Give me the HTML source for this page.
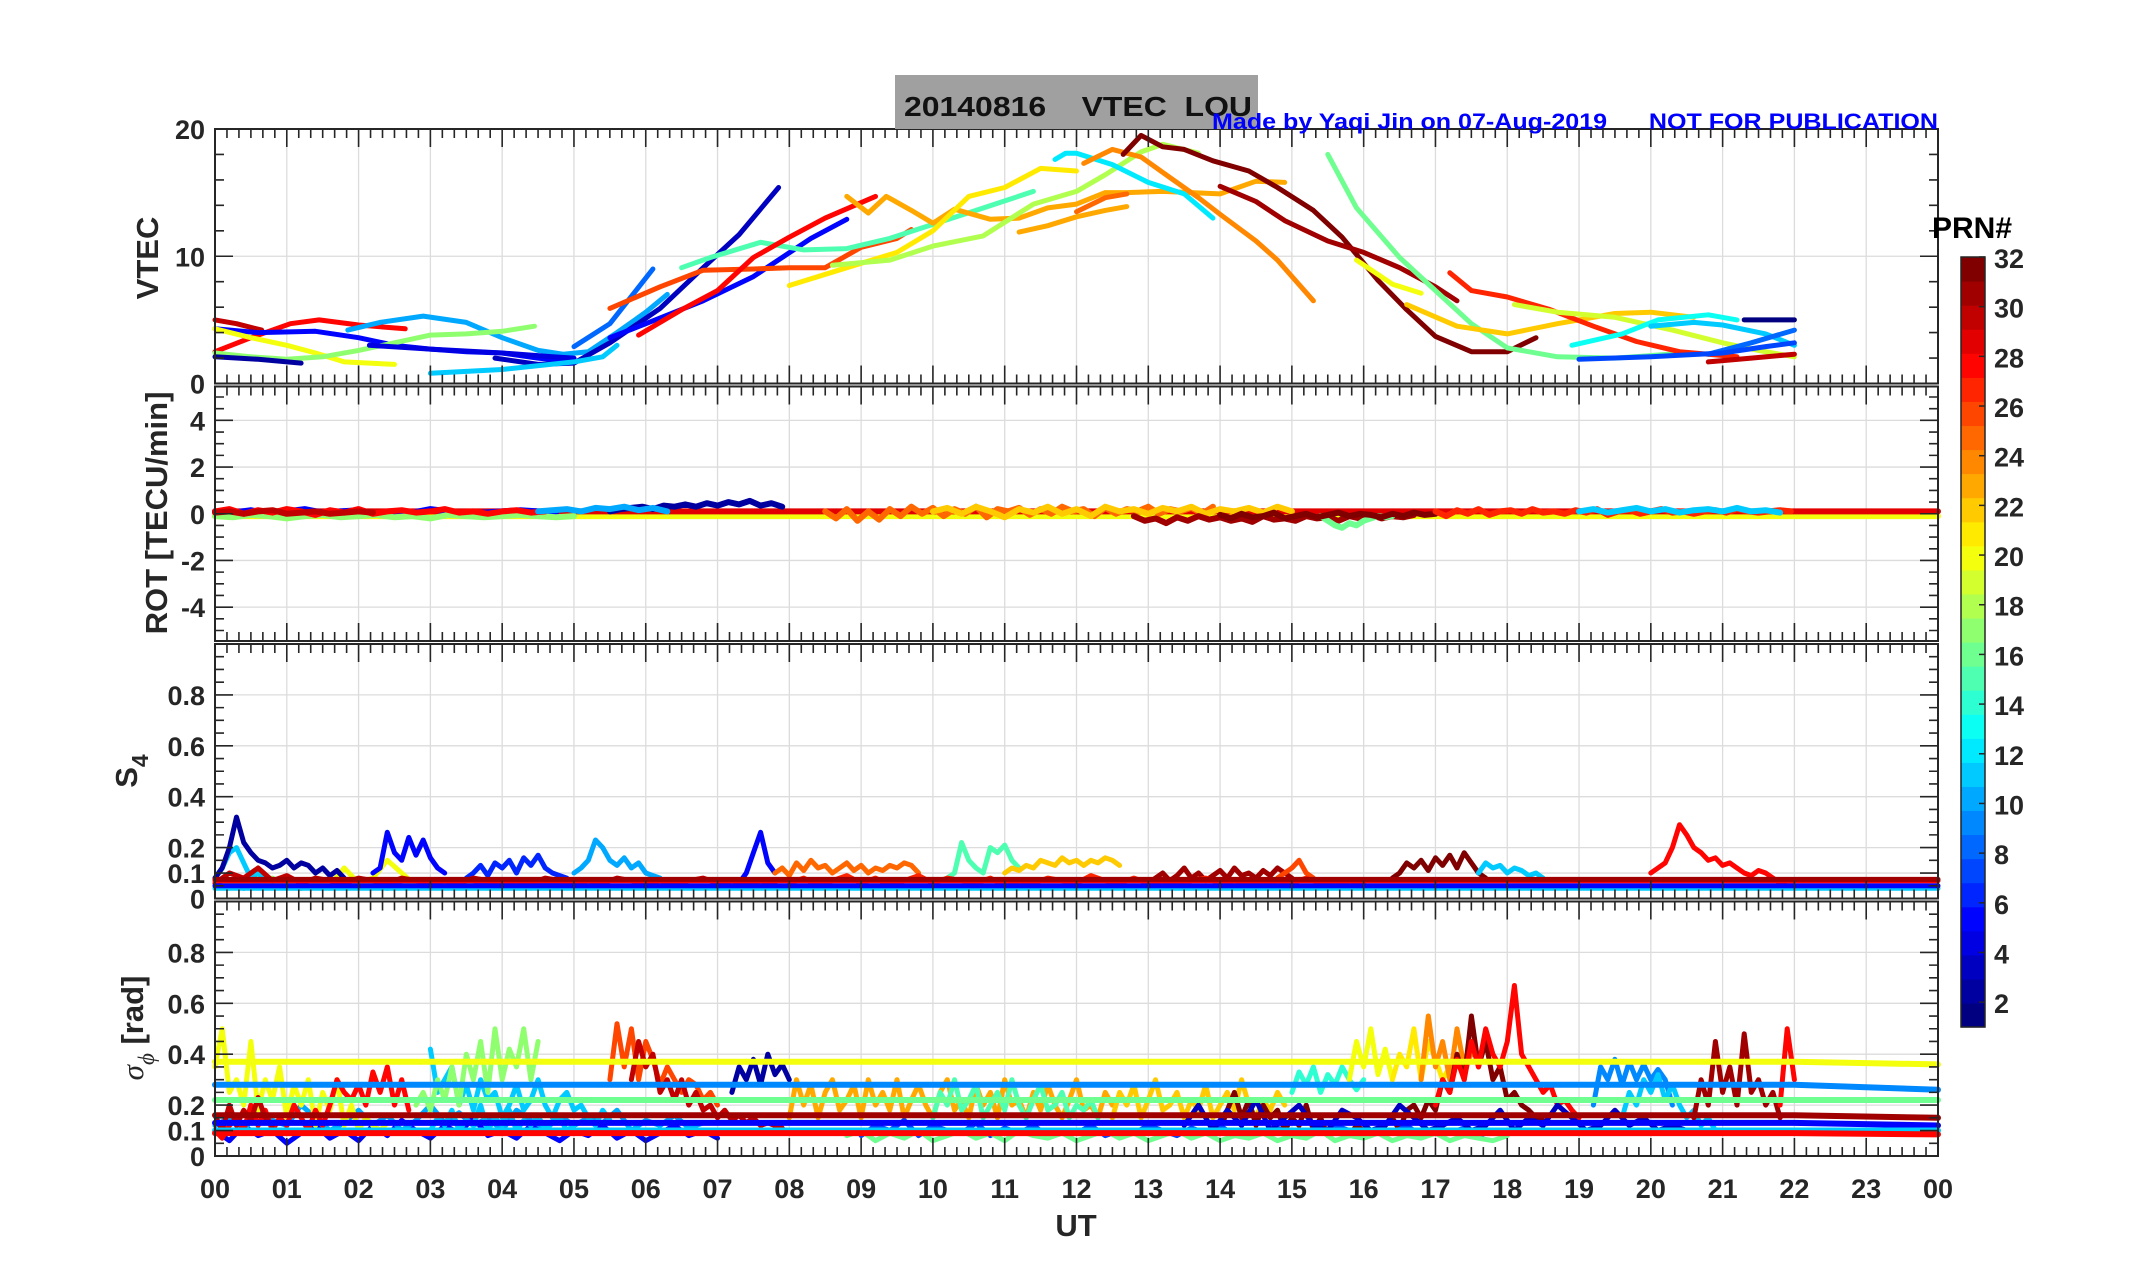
<!DOCTYPE html>
<html><head><meta charset="utf-8"><style>
html,body{margin:0;padding:0;background:#fff}
svg{display:block;font-family:"Liberation Sans",sans-serif}
.tk{font-weight:bold;font-size:27px;fill:#262626}
</style></head><body>
<svg id="fig" width="2153" height="1286" viewBox="0 0 2153 1286" xmlns="http://www.w3.org/2000/svg">
<rect x="0" y="0" width="2153" height="1286" fill="#fff"/>
<g id="grid"></g>
<g id="series"></g>
<g id="axes"></g>
<rect x="895" y="75" width="363" height="54" fill="#a0a0a0"/>
<text x="904" y="116" font-size="28" font-weight="bold" fill="#111" xml:space="preserve" textLength="348" lengthAdjust="spacingAndGlyphs">20140816    VTEC  LOU</text>
<text x="1212" y="129" font-size="22" font-weight="bold" fill="#0000ff" xml:space="preserve" textLength="726" lengthAdjust="spacingAndGlyphs">Made by Yaqi Jin on 07-Aug-2019      NOT FOR PUBLICATION</text>
<text transform="translate(158,258) rotate(-90)" text-anchor="middle" font-size="31" font-weight="bold" fill="#262626">VTEC</text>
<text transform="translate(167,513) rotate(-90)" text-anchor="middle" font-size="31" font-weight="bold" fill="#262626">ROT [TECU/min]</text>
<text transform="translate(137,771) rotate(-90)" text-anchor="middle" font-size="31" font-weight="bold" fill="#262626">S<tspan font-size="23" dy="11">4</tspan></text>
<text transform="translate(143,1028) rotate(-90)" text-anchor="middle" font-size="31" font-weight="bold" fill="#262626"><tspan font-family="Liberation Serif" font-style="italic" font-weight="normal">σ</tspan><tspan font-family="Liberation Serif" font-style="italic" font-weight="normal" font-size="23" dy="11">ϕ</tspan><tspan dy="-11"> [rad]</tspan></text>
<text x="1076" y="1236" text-anchor="middle" font-size="31" font-weight="bold" fill="#262626">UT</text>
<text x="1972" y="238" text-anchor="middle" font-size="30" font-weight="bold" fill="#000">PRN#</text>
<g id="cbar"></g>
</svg>
<script>
// ---------- data ----------
const xTickLabels = ["00","01","02","03","04","05","06","07","08","09","10","11","12","13","14","15","16","17","18","19","20","21","22","23","00"];
const vtecTicks = [0,10,20];
const rotTicks = [-4,-2,0,2,4];
const s4Ticks = [0,0.1,0.2,0.4,0.6,0.8];
const sigTicks = [0,0.1,0.2,0.4,0.6,0.8];
const cbarTicks = [2,4,6,8,10,12,14,16,18,20,22,24,26,28,30,32];

// VTEC arcs: prn, times, values
const vtecPrn = [30,28,10,5,20,17,2,4,3,8,5,11,26,15,28,23,21,18,12,24,32,23,25,31,20,16,22,27,19,13,11,1,8,7,30];
const vtecT = [
 [0,0.3,0.65],
 [0,0.5,1.05,1.45,2,2.65],
 [1.85,2.3,2.9,3.5,4.0,4.5,4.85,5.2,5.6,6.0,6.3],
 [0,0.6,1.4,2.0,2.5,3.0,3.5,4.0,4.5,5.0],
 [0,0.5,1.0,1.4,1.8,2.5],
 [0,0.5,1.0,1.5,2.0,2.5,3.0,3.5,4.0,4.45],
 [0,0.6,1.2],
 [2.15,3.0,4.0,4.7,5.0],
 [3.9,4.5,5.0,5.5,6.2,6.8,7.3,7.85],
 [5.0,5.5,6.1],
 [5.5,6.0,6.8,7.5,8.3,8.8],
 [3.0,4.0,5.0,5.4,5.6],
 [5.5,6.2,6.8,7.5,8.0,8.5,9.0,9.5,9.7],
 [6.5,6.9,7.6,8.2,8.8,9.4,10.0,10.6,11.4],
 [5.9,6.5,7.0,7.5,8.0,8.5,9.2],
 [8.8,9.1,9.35,9.7,10.0,10.3,10.8,11.2,11.6,12.0,12.4,12.7,13.2,14.0,14.5,14.9],
 [8.0,8.8,9.5,10.0,10.5,11.0,11.5,12.0],
 [8.6,9.4,10.0,10.7,11.4,12.0,12.4,12.9,13.2,13.7],
 [11.7,11.85,12.0,12.5,13.0,13.5,13.9],
 [12.1,12.5,12.9,13.3,13.7,14.0,14.5,14.8,15.3],
 [12.65,12.9,13.2,13.5,13.9,14.4,14.8,15.3,15.7,16.2,16.6,17.0,17.5,18.0,18.4],
 [11.2,11.6,12.0,12.4,12.7],
 [12.0,12.4,12.7],
 [14.0,14.5,14.9,15.5,16.0,16.5,17.0,17.3],
 [15.9,16.4,16.8],
 [15.5,15.9,16.5,17.0,17.5,18.0,18.7,19.5,20.5],
 [16.6,17.3,18.0,18.7,19.5,20.0,20.6],
 [17.2,17.5,18.0,18.6,19.2,19.8,20.4,21.2],
 [18.1,18.7,19.5,20.3,21.0,21.5,22.0],
 [18.9,19.6,20.1,20.8,21.2],
 [20.0,20.6,21.0,21.6,22.0],
 [21.3,22.0],
 [20.8,21.4,22.0],
 [19.0,20.0,21.0,21.6,22.0],
 [20.8,21.4,22.0]
];
const vtecV = [
 [5.0,4.7,4.2],
 [2.5,3.6,4.7,5.0,4.6,4.3],
 [4.2,4.8,5.3,4.8,3.6,2.6,2.3,2.5,4.0,5.6,7.0],
 [4.3,4.0,4.1,3.6,3.0,2.7,2.5,2.4,2.0,1.7],
 [4.3,3.6,3.0,2.4,1.7,1.5],
 [2.4,2.1,1.9,2.1,2.6,3.2,3.8,3.9,4.1,4.5],
 [2.1,1.9,1.6],
 [3.0,2.7,2.4,2.1,2.0],
 [2.0,1.5,1.6,3.2,5.9,9.1,11.7,15.4],
 [2.9,4.7,9.0],
 [3.6,4.7,6.5,8.4,11.4,12.9],
 [0.8,1.1,1.7,2.1,3.0],
 [5.9,7.6,8.9,9.0,9.1,9.1,10.7,11.4,12.1],
 [9.1,9.9,11.1,10.5,10.6,11.4,12.5,13.6,15.1],
 [3.8,5.8,7.3,9.9,11.5,13.0,14.7],
 [14.7,13.4,14.7,13.6,12.6,13.7,12.9,13.0,13.8,14.1,15.0,15.0,15.1,14.9,15.9,15.8],
 [7.7,9.1,10.3,12.0,14.7,15.4,16.9,16.7],
 [9.3,9.7,10.8,11.6,14.1,15.1,16.4,18.2,18.8,18.1],
 [17.6,18.1,18.1,17.2,15.8,14.9,13.0],
 [17.3,18.4,17.8,16.2,14.6,13.3,11.2,9.7,6.5],
 [18.0,19.5,18.6,18.4,17.5,16.7,15.4,13.6,11.5,8.1,5.8,3.7,2.5,2.5,3.6],
 [11.9,12.4,13.1,13.6,13.9],
 [13.5,14.6,14.9],
 [15.5,14.3,12.8,11.2,10.3,9.1,7.6,6.5],
 [9.7,7.8,7.1],
 [18.0,13.8,9.9,7.3,4.7,2.8,2.1,2.0,2.4],
 [6.2,4.5,3.9,4.7,5.5,5.6,5.2],
 [8.7,7.3,6.8,5.8,4.5,3.3,2.5,2.1],
 [6.2,5.6,5.2,4.2,3.2,2.6,2.1],
 [3.0,3.9,5.0,5.4,5.0],
 [4.5,4.8,4.6,3.9,3.0],
 [5.0,5.0],
 [2.3,3.2,4.2],
 [1.9,2.1,2.4,2.9,3.2],
 [1.7,2.0,2.3]
];

// ROT noisy series: prn, start hour, step, values
const rotPrn = [5,17,28,30,2,10,25,22,31,16,32,27,11];
const rotT0 = [0,0,0,0,5.5,4.5,8.5,10,12.8,15.4,14,17,19];
const rotDt = [0.25,0.25,0.2,0.2,0.15,0.2,0.15,0.2,0.15,0.1,0.15,0.15,0.2];
const rotV = [
 [0.1,0.05,0.15,0.0,0.1,0.2,0.05,0.1,0.15,0.0,0.1,0.05,0.2,0.1,0.0,0.05,0.1,0.15,0.1,0.0],
 [-0.1,-0.15,-0.05,-0.1,-0.2,-0.1,-0.05,-0.15,-0.1,-0.05,-0.15,-0.1,-0.2,-0.05,-0.1,-0.15,-0.1,-0.05,-0.1,-0.15,-0.1],
 [0.1,0.2,0.0,0.15,0.05,0.2,0.1,-0.05,0.15,0.05,0.2,0.0,0.1,0.15,0.05,0.1,0.2,0.05,0.1,0.0,0.1,0.15,0.05,0.1],
 [0.05,0.1,0.0,0.1,0.15,0.0,0.05,0.1,0.0,0.05,0.1,0.05],
 [0.1,0.2,0.25,0.3,0.2,0.35,0.3,0.4,0.3,0.45,0.35,0.5,0.4,0.55,0.35,0.45,0.3],
 [0.1,0.15,0.2,0.1,0.25,0.2,0.3,0.15,0.25,0.1],
 [0.1,-0.2,0.2,-0.3,0.1,-0.25,0.2,-0.1,0.3,0.0,0.25,-0.1,0.2,0.0,0.3,-0.15,0.2,0.1,0.25,-0.05,0.2,0.0,0.3,0.1,0.2,-0.1,0.25,0.0,0.2,0.1,0.3,0.0,0.2,0.1,0.25,0.0,0.3],
 [0.1,0.25,0.0,0.3,0.1,-0.15,0.2,0.05,0.3,0.0,0.2,-0.1,0.3,0.1,0.2,0.0,0.25,0.1,0.3,0.0,0.2,0.1,0.25,0.05,0.3,0.1],
 [-0.1,-0.3,-0.2,-0.4,-0.15,-0.3,-0.1,-0.25,-0.15,-0.3,-0.2,-0.35,-0.1,-0.25,-0.2,-0.3,-0.1,-0.2,-0.15,-0.3,-0.1,-0.2,-0.05,-0.2,-0.1,-0.15,-0.05],
 [-0.1,-0.3,-0.5,-0.6,-0.4,-0.5,-0.3,-0.2,-0.1,-0.15,-0.1],
 [-0.05,-0.2,0.0,-0.15,-0.1,0.05,-0.2,-0.1,0.0,-0.15,-0.05,0.05,-0.1,0.0,-0.05,-0.15,0.0,-0.1,0.05,-0.05,0.0],
 [0.1,-0.1,0.15,0.0,0.2,-0.05,0.1,0.15,0.0,0.2,0.05,0.1,0.0,0.15,0.05,0.2,-0.05,0.1,0.15,0.0,0.1,0.2,0.05,0.1,0.0,0.1,0.15,0.05,0.2,0.1,0.05,0.1,0.15,0.1],
 [0.1,0.2,0.05,0.15,0.25,0.1,0.2,0.05,0.15,0.2,0.1,0.25,0.1,0.15,0.05]
];
const rotConstPrn = [20,29];
const rotConstV = [-0.1,0.1];

// S4 noisy series
const s4Prn = [6,17,20,11,2,5,6,10,5,25,15,22,31,26,32,11,28,30,27];
const s4T0 = [0,0,0,0,0,2.2,3.5,5.0,7.3,7.8,10.2,11.0,13.0,14.8,16.4,17.6,20.0,0,8];
const s4Dt = [0.2,0.2,0.2,0.1,0.1,0.1,0.1,0.1,0.1,0.1,0.1,0.1,0.1,0.1,0.1,0.1,0.1,0.2,0.2];
const s4V = [
 [0.05,0.07,0.04,0.06,0.05,0.08,0.04,0.06,0.05,0.07,0.05,0.06,0.04,0.06,0.05,0.07,0.05,0.06,0.05,0.07,0.04,0.06,0.05,0.07,0.05,0.06],
 [0.05,0.04,0.06,0.05,0.08,0.04,0.06,0.05,0.04,0.06,0.05,0.07,0.04,0.05,0.06,0.04,0.05,0.06,0.05,0.04,0.06,0.05,0.04],
 [0.04,0.06,0.05,0.08,0.05,0.06,0.04,0.07,0.05,0.12,0.06,0.08,0.15,0.1,0.05,0.07,0.05,0.06],
 [0.08,0.12,0.18,0.2,0.14,0.08,0.1,0.07],
 [0.08,0.12,0.2,0.32,0.22,0.18,0.15,0.14,0.12,0.13,0.15,0.12,0.14,0.13,0.1,0.12,0.09,0.11,0.08],
 [0.1,0.12,0.26,0.18,0.15,0.24,0.17,0.23,0.16,0.12,0.1],
 [0.08,0.1,0.13,0.09,0.14,0.12,0.15,0.1,0.16,0.13,0.17,0.12,0.1,0.09,0.08],
 [0.1,0.12,0.15,0.23,0.2,0.15,0.13,0.16,0.12,0.14,0.1,0.09,0.08],
 [0.06,0.1,0.18,0.26,0.14,0.1],
 [0.1,0.12,0.09,0.14,0.11,0.15,0.12,0.13,0.1,0.12,0.14,0.11,0.13,0.1,0.12,0.11,0.13,0.12,0.14,0.13,0.1],
 [0.08,0.1,0.22,0.15,0.12,0.1,0.2,0.18,0.21,0.15,0.12],
 [0.1,0.12,0.11,0.13,0.12,0.15,0.14,0.13,0.16,0.14,0.15,0.13,0.15,0.14,0.16,0.15,0.13],
 [0.06,0.08,0.1,0.07,0.09,0.12,0.08,0.1,0.07,0.09,0.11,0.08,0.12,0.09,0.1,0.08,0.11,0.09,0.12,0.1,0.08],
 [0.08,0.1,0.12,0.15,0.1,0.08],
 [0.08,0.1,0.14,0.12,0.15,0.11,0.16,0.13,0.17,0.12,0.18,0.14,0.1,0.08],
 [0.1,0.14,0.12,0.13,0.1,0.12,0.11,0.09,0.1,0.08],
 [0.1,0.12,0.14,0.2,0.29,0.25,0.2,0.18,0.15,0.16,0.13,0.14,0.12,0.1,0.09,0.11,0.1,0.08,0.06,0.05,0.05],
 [0.06,0.1,0.08,0.12,0.07,0.09,0.06,0.08,0.07,0.06,0.08,0.07,0.06,0.08,0.07,0.06,0.07,0.06,0.08,0.07,0.06,0.07,0.06,0.08,0.07,0.06,0.07,0.06,0.08,0.07,0.06,0.07,0.06,0.07,0.08,0.06,0.07,0.06,0.07,0.06],
 [0.06,0.08,0.05,0.07,0.09,0.06,0.08,0.05,0.07,0.09,0.06,0.08,0.07,0.06,0.08,0.05,0.07,0.06,0.08,0.07,0.06,0.09,0.07,0.06,0.08,0.06,0.07,0.05,0.07,0.08,0.06,0.07,0.06,0.05,0.07,0.06,0.08,0.06,0.05,0.07,0.06]
];
const s4ConstPrn = [11,5,28,31];
const s4ConstV = [0.04,0.05,0.07,0.075];

// sigma-phi noisy series
const sigPrn = [5,10,11,20,28,30,11,17,2,26,30,23,15,22,14,20,21,24,32,28,9,11,31,28,7,16,3];
const sigT0 = [0,0,3,0,0,0,3,2.8,7.2,5.5,5.8,8,10,12.5,15,15.8,16.4,16.8,14,17,19.2,19.6,20.6,21.8,9,8.8,13.5];
const sigDt = [0.2,0.2,0.1,0.1,0.1,0.1,0.1,0.1,0.1,0.1,0.1,0.1,0.1,0.1,0.1,0.1,0.1,0.1,0.1,0.1,0.1,0.1,0.1,0.05,0.2,0.2,0.2];
const sigV = [
 [0.1,0.06,0.12,0.08,0.1,0.05,0.09,0.12,0.07,0.1,0.06,0.12,0.08,0.14,0.1,0.07,0.12,0.09,0.15,0.08,0.1,0.07,0.12,0.09,0.06,0.1,0.08,0.12,0.07,0.1,0.06,0.09,0.12,0.08,0.1,0.07],
 [0.12,0.15,0.1,0.18,0.14,0.12,0.2,0.15,0.1,0.13,0.18,0.12,0.16,0.1,0.14,0.2,0.13,0.17,0.12,0.15,0.1,0.18,0.14,0.11,0.16,0.12,0.15,0.13,0.18,0.1,0.14,0.12,0.16,0.11,0.13],
 [0.42,0.25,0.3,0.35,0.2,0.28,0.18,0.3,0.22,0.25,0.15,0.2,0.28,0.18,0.22,0.3,0.2,0.15,0.22,0.25,0.18,0.2,0.15,0.12,0.18,0.14],
 [0.35,0.5,0.25,0.3,0.2,0.45,0.18,0.3,0.22,0.35,0.15,0.28,0.2,0.3,0.12,0.25,0.18,0.3,0.12,0.2,0.1,0.15,0.12,0.1,0.13],
 [0.1,0.07,0.12,0.15,0.1,0.2,0.12,0.18,0.1,0.15,0.12,0.2,0.15,0.1,0.18,0.12,0.2,0.3,0.25,0.22,0.28,0.2,0.33,0.25,0.35,0.2,0.3,0.18],
 [0.16,0.1,0.2,0.12,0.18,0.14,0.23,0.15,0.12],
 [0.1,0.15,0.12,0.18,0.1,0.14,0.12,0.2,0.1,0.15,0.12,0.18,0.1,0.14,0.12,0.16,0.1,0.13,0.15,0.1,0.12],
 [0.2,0.25,0.18,0.3,0.22,0.35,0.2,0.4,0.3,0.45,0.25,0.5,0.3,0.42,0.35,0.5,0.3,0.45],
 [0.25,0.35,0.3,0.38,0.28,0.4,0.32,0.36,0.3],
 [0.3,0.52,0.35,0.5,0.3,0.45,0.38,0.28,0.35,0.3,0.25,0.3,0.28,0.22,0.25,0.2],
 [0.3,0.45,0.35,0.4,0.25,0.3,0.22,0.3,0.2,0.25,0.18,0.2,0.15,0.18,0.14,0.16,0.13,0.15,0.12,0.13,0.12,0.11],
 [0.15,0.3,0.2,0.28,0.15,0.25,0.3,0.18,0.22,0.28,0.15,0.3,0.2,0.25,0.18,0.3,0.15,0.22,0.28,0.2,0.15,0.25,0.3,0.18,0.22,0.15,0.28,0.2,0.25,0.15,0.3,0.2,0.22,0.15,0.25,0.18,0.28,0.2,0.15,0.22,0.3,0.18,0.2,0.15,0.25,0.2],
 [0.15,0.25,0.2,0.3,0.18,0.22,0.28,0.15,0.2,0.25,0.18,0.3,0.2,0.15,0.22,0.28,0.18,0.2,0.25,0.15,0.2,0.18,0.22,0.15],
 [0.15,0.25,0.2,0.28,0.15,0.22,0.3,0.18,0.2,0.25,0.15,0.22,0.18,0.28,0.15,0.2,0.25,0.18,0.3,0.2,0.15,0.22,0.18,0.25,0.2],
 [0.25,0.33,0.28,0.35,0.25,0.32,0.28,0.35,0.3,0.26,0.3],
 [0.3,0.45,0.35,0.5,0.32,0.42,0.3],
 [0.3,0.4,0.35,0.5,0.3,0.45,0.38,0.3,0.35],
 [0.3,0.55,0.35,0.45,0.3,0.5,0.35,0.4],
 [0.1,0.18,0.25,0.15,0.22,0.12,0.2,0.15,0.18,0.1,0.15,0.12,0.2,0.1,0.15,0.08,0.12,0.1,0.08,0.12,0.1,0.08,0.1,0.12,0.15,0.1,0.18,0.2,0.15,0.22,0.18,0.3,0.25,0.4,0.3,0.55,0.35,0.45,0.3,0.35,0.22,0.25,0.2,0.18,0.15,0.14],
 [0.2,0.3,0.25,0.38,0.3,0.45,0.35,0.5,0.4,0.35,0.45,0.67,0.4,0.35,0.3,0.25,0.28,0.2,0.22,0.18,0.15],
 [0.2,0.35,0.3,0.38,0.28,0.37,0.3,0.36,0.3,0.34,0.3,0.2],
 [0.15,0.25,0.2,0.3,0.25,0.32,0.22,0.28,0.2,0.15,0.18,0.12,0.15,0.1],
 [0.15,0.3,0.2,0.45,0.25,0.35,0.2,0.48,0.25,0.3,0.2,0.25,0.15],
 [0.2,0.35,0.5,0.4,0.3],
 [0.08,0.12,0.1,0.14,0.08,0.12,0.1,0.09,0.13,0.08,0.11,0.09,0.12,0.08,0.1,0.09,0.12,0.08,0.1,0.09,0.12,0.1,0.08,0.11,0.09,0.12,0.08,0.1,0.09,0.11,0.08,0.1,0.09,0.12,0.1,0.08,0.11,0.09,0.12,0.08,0.1,0.09,0.11,0.08,0.1,0.09],
 [0.08,0.1,0.06,0.09,0.07,0.1,0.06,0.08,0.1,0.07,0.09,0.06,0.1,0.08,0.07,0.09,0.06,0.08,0.1,0.07,0.09,0.06,0.08,0.1,0.07,0.09,0.06,0.08,0.07,0.09,0.06,0.08,0.07,0.1,0.06,0.08,0.07,0.09,0.06,0.08,0.07,0.09,0.06,0.08,0.07,0.06,0.08],
 [0.12,0.2,0.1,0.18,0.12,0.22,0.1,0.15,0.2,0.12,0.1,0.18,0.15,0.1,0.12,0.2,0.15,0.1,0.12,0.15,0.1,0.12,0.18,0.1,0.15,0.12,0.2,0.15,0.1,0.12,0.18,0.12,0.15,0.1,0.12,0.1]
];
const sigConstPrn = [20,9,16,31,5,11,28];
const sigConstV0 = [0.37,0.28,0.22,0.16,0.13,0.1,0.09];
const sigConstV1 = [0.36,0.26,0.22,0.15,0.12,0.1,0.085];

// ---------- layout ----------
const NS='http://www.w3.org/2000/svg';
const L=215, R=1938;
const panels=[
 {name:'vtec',top:129,bot:383.5,min:0,max:20,major:vtecTicks,minorStep:2,fmt:v=>String(v)},
 {name:'rot',top:386.5,bot:641,min:-5.45,max:5.45,major:rotTicks,minorStep:0.5,fmt:v=>String(v)},
 {name:'s4',top:644,bot:898.5,min:0,max:1,major:s4Ticks,minorStep:0.05,fmt:v=>String(v)},
 {name:'sigma',top:901.5,bot:1156,min:0,max:1,major:sigTicks,minorStep:0.05,fmt:v=>String(v)}
];
const xs=h=>L+(R-L)*h/24;
const ysFn=p=>v=>p.bot-(v-p.min)/(p.max-p.min)*(p.bot-p.top);
function jet(prn){
 const x=(prn-1)/31;
 const c=t=>Math.round(255*Math.max(0,Math.min(1,1.5-Math.abs(4*x-t))));
 return `rgb(${c(3)},${c(2)},${c(1)})`;
}
function mk(tag,attrs,parent){const e=document.createElementNS(NS,tag);for(const k in attrs)e.setAttribute(k,attrs[k]);parent.appendChild(e);return e;}
const G=document.getElementById('grid'),S=document.getElementById('series'),A=document.getElementById('axes');

panels.forEach(p=>{
 const y=ysFn(p);
 for(let h=1;h<24;h++){const g=mk('line',{x1:xs(h),x2:xs(h),y1:p.top,y2:p.bot,stroke:'#dcdcdc','stroke-width':1.3},G);
  
  }
 p.major.forEach(v=>{if(v<=p.min||v>=p.max)return;const g=mk('line',{x1:L,x2:R,y1:y(v),y2:y(v),stroke:'#dcdcdc','stroke-width':1.3},G);
  
  });
 const fr=mk('rect',{x:L,y:p.top,width:R-L,height:p.bot-p.top,fill:'none',stroke:'#262626','stroke-width':2},A);
 
 
 let d='';
 for(let i=0;i<=144;i++){const x=xs(i/6);const len=(i%6===0)?18:9;
  d+=`M${x},${p.top}v${len}M${x},${p.bot}v${-len}`;}
 const start=Math.ceil(p.min/p.minorStep);
 for(let k=start;k*p.minorStep<=p.max+1e-9;k++){const v=k*p.minorStep;const yy=y(v);
  const isMaj=p.major.some(m=>Math.abs(m-v)<1e-6);const len=isMaj?18:9;
  d+=`M${L},${yy}h${len}M${R},${yy}h${-len}`;}
 const tk=mk('path',{d:d,stroke:'#262626','stroke-width':1.6,fill:'none'},A);
 
 
 p.major.forEach(v=>{const t=mk('text',{x:L-10,y:y(v)+10,'text-anchor':'end',class:'tk'},A);t.textContent=p.fmt(v);
  
  });
});
xTickLabels.forEach((s,i)=>{const t=mk('text',{x:xs(i),y:1198,'text-anchor':'middle',class:'tk','font-size':'28'},A);t.textContent=s;
 
 });

function poly(pts,color,w,name){const e=mk('polyline',{points:pts.map(q=>q[0].toFixed(1)+','+q[1].toFixed(1)).join(' '),fill:'none',stroke:color,'stroke-width':w,'stroke-linejoin':'round','stroke-linecap':'round'},S);
 
 return e;}

{const p=panels[0],y=ysFn(p);
 vtecPrn.forEach((prn,i)=>{poly(vtecT[i].map((t,j)=>[xs(t),y(vtecV[i][j])]),jet(prn),5,'vtec-arc-prn'+prn);});}
{const p=panels[1],y=ysFn(p);
 rotConstPrn.forEach((prn,i)=>{poly([[xs(0),y(rotConstV[i])],[xs(24),y(rotConstV[i])]],jet(prn),6,'rot-mean-prn'+prn);});
 rotPrn.forEach((prn,i)=>{poly(rotV[i].map((v,j)=>[xs(rotT0[i]+j*rotDt[i]),y(v)]),jet(prn),6,'rot-prn'+prn);});}
{const p=panels[2],y=ysFn(p);
 s4Prn.forEach((prn,i)=>{poly(s4V[i].map((v,j)=>[xs(s4T0[i]+j*s4Dt[i]),y(v)]),jet(prn),5,'s4-prn'+prn);});
 s4ConstPrn.forEach((prn,i)=>{poly([[xs(0),y(s4ConstV[i])],[xs(24),y(s4ConstV[i])]],jet(prn),5,'s4-mean-prn'+prn);});}
{const p=panels[3],y=ysFn(p);
 sigPrn.forEach((prn,i)=>{poly(sigV[i].map((v,j)=>[xs(sigT0[i]+j*sigDt[i]),y(v)]),jet(prn),5,'sigma-prn'+prn);});
 sigConstPrn.forEach((prn,i)=>{poly([[xs(0),y(sigConstV0[i])],[xs(22),y(sigConstV0[i])],[xs(24),y(sigConstV1[i])]],jet(prn),6,'sigma-mean-prn'+prn);});}

{const C=document.getElementById('cbar');const x0=1961,w=24,top=257,bot=1027,n=32;const h=(bot-top)/n;
 for(let k=0;k<n;k++){const r=mk('rect',{x:x0,y:bot-(k+1)*h,width:w,height:h+0.6,fill:jet(k+1)},C);
  
  }
 const fr=mk('rect',{x:x0,y:top,width:w,height:bot-top,fill:'none',stroke:'#262626','stroke-width':1.5},C);
 
 
 const cy=v=>bot-(v-1)/31*(bot-top);
 cbarTicks.forEach(v=>{const l=mk('line',{x1:x0+w-6,x2:x0+w,y1:cy(v),y2:cy(v),stroke:'#262626','stroke-width':1.5},C);
  
  
  const t=mk('text',{x:x0+w+9,y:cy(v)+11,class:'tk','font-size':'30'},C);t.textContent=String(v);
  
  });}
</script>
</body></html>
